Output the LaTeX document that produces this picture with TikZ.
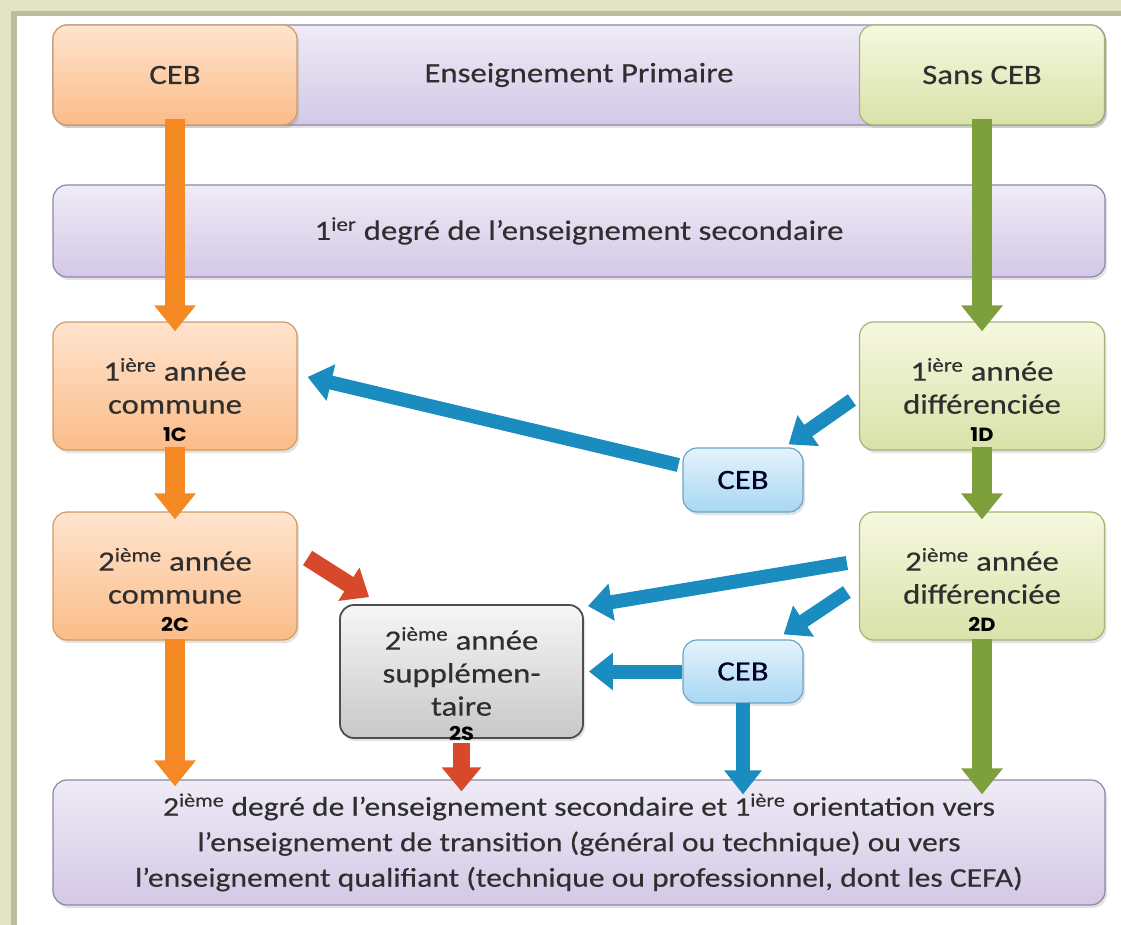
\documentclass[tikz,border=0pt]{standalone}
\usepackage{fontspec}
\setmainfont{Carlito}[FakeStretch=1.17,FakeBold=0.35]
\newfontfamily\labfont{Poppins}[FakeStretch=1.1]
\usetikzlibrary{arrows.meta,shadows,calc}
\definecolor{framebg}{HTML}{E3E3C6}
\definecolor{framedark}{HTML}{BDBD9E}
\definecolor{txt}{HTML}{2F2F2F}
\definecolor{orT}{HTML}{FFE4CE}
\definecolor{orB}{HTML}{FBBC88}
\definecolor{orD}{HTML}{D29A68}
\definecolor{grT}{HTML}{F6F8DF}
\definecolor{grB}{HTML}{D8E2A8}
\definecolor{grD}{HTML}{A3B37A}
\definecolor{puT}{HTML}{EFEBF6}
\definecolor{puB}{HTML}{D3C8E6}
\definecolor{puD}{HTML}{8E86A6}
\definecolor{blT}{HTML}{E4F3FC}
\definecolor{blB}{HTML}{A8D7F3}
\definecolor{blD}{HTML}{6EA4C6}
\definecolor{gyT}{HTML}{F6F6F6}
\definecolor{gyB}{HTML}{C8C8C8}
\definecolor{gyD}{HTML}{4E4E4E}
\definecolor{orA}{HTML}{F58A25}
\definecolor{grA}{HTML}{7EA03C}
\definecolor{blA}{HTML}{1A8CC0}
\definecolor{rdA}{HTML}{D8482A}
\tikzset{
  box/.style={rounded corners=14pt, line width=1.2pt, text=txt,
    font=\fontsize{28}{33}\selectfont, align=center, inner sep=0pt,
    drop shadow={opacity=0.22, shadow xshift=2pt, shadow yshift=-3pt}},
  orbox/.style={box, draw=orD, top color=orT, bottom color=orB},
  grbox/.style={box, draw=grD, top color=grT, bottom color=grB},
  pubox/.style={box, draw=puD, top color=puT, bottom color=puB},
  blbox/.style={box, draw=blD, top color=blT, bottom color=blB, text=black!85!blue},
  gybox/.style={box, draw=gyD, line width=1.8pt, top color=gyT, bottom color=gyB},
  lab/.style={font=\labfont\bfseries\fontsize{19}{19}\selectfont, text=black, inner sep=0pt},
  bigarrow/.style={line width=20pt, -{Triangle[width=40pt 0,length=26pt 0]}},
  oarr/.style={bigarrow, draw=orA},
  garr/.style={bigarrow, draw=grA},
  barr/.style={line width=14pt, draw=blA, -{Triangle[width=36pt 0,length=24pt 0]}},
  rarr/.style={line width=17pt, draw=rdA, -{Triangle[width=38pt 0,length=24pt 0]}}
}
\begin{document}
\begin{tikzpicture}[x=1pt,y=-1pt]
\useasboundingbox (0,0) rectangle (1121,925);
\fill[framebg] (0,0) rectangle (1121,925);
\fill[framedark] (11,11) rectangle (1121,925);
\fill[white] (17,16) rectangle (1121,925);

% top row
\node[pubox, minimum width=1052pt, minimum height=100pt] (prim) at (579,75) {Enseignement Primaire};
\node[orbox, minimum width=244pt, minimum height=100pt] (ceb) at (175,75) {CEB};
\node[grbox, minimum width=245pt, minimum height=100pt] (sceb) at (982,75) {Sans CEB};

% 1er degre
\node[pubox, minimum width=1052pt, minimum height=92pt] (deg1) at (579,231) {1\textsuperscript{ier} degré de l’enseignement secondaire};

% year boxes
\node[orbox, minimum width=244pt, minimum height=128pt] (c1) at (175,386) {1\textsuperscript{ière} année\\commune};
\node[grbox, minimum width=245pt, minimum height=128pt] (d1) at (982,386) {1\textsuperscript{ière} année\\différenciée};
\node[blbox, minimum width=120pt, minimum height=64pt] (cebA) at (743,480) {CEB};
\node[orbox, minimum width=244pt, minimum height=128pt] (c2) at (175,576) {2\textsuperscript{ième} année\\commune};
\node[grbox, minimum width=245pt, minimum height=128pt] (d2) at (982,576) {2\textsuperscript{ième} année\\différenciée};
\node[gybox, minimum width=243pt, minimum height=133pt] (s2) at (461.5,671.5) {2\textsuperscript{ième} année\\supplémen-\\taire};
\node[blbox, minimum width=120pt, minimum height=63pt] (cebB) at (743,671.5) {CEB};

% bottom bar
\node[pubox, minimum width=1052pt, minimum height=125pt, font=\fontsize{27}{35.5}\selectfont] (bot) at (579,842.5)
  {2\textsuperscript{ième} degré de l’enseignement secondaire et 1\textsuperscript{ière} orientation vers\\
   l’enseignement de transition (général ou technique) ou vers\\
   l’enseignement qualifiant (technique ou professionnel, dont les CEFA)};

% vertical arrows
\draw[oarr] ([yshift=7pt]ceb.south) -- ([yshift=-10pt]c1.north);
\draw[garr] ([yshift=7pt]sceb.south) -- ([yshift=-10pt]d1.north);
\draw[oarr] ([yshift=4pt]c1.south) -- ([yshift=-8pt]c2.north);
\draw[garr] ([yshift=4pt]d1.south) -- ([yshift=-8pt]d2.north);
\draw[oarr] ([yshift=2pt]c2.south) -- ($(c2.south |- bot.north)+(0,7)$);
\draw[garr] ([yshift=2pt]d2.south) -- ($(d2.south |- bot.north)+(0,15)$);

% blue arrows
\draw[barr] ($(cebA.west)+(-4,-15)$) -- ($(c1.east)+(10,-9)$);
\draw[barr] ($(d1.west)+(-7,14)$) -- ($(cebA.north east)+(-15,-3)$);
\draw[barr] ($(d2.west)+(-12,-13)$) -- ($(s2.north east)+(4,2)$);
\draw[barr] ($(d2.west)+(-12,16)$) -- ($(cebB.north east)+(-20,-5)$);
\draw[barr] (cebB.west) -- ($(s2.east)+(5,0)$);
\draw[barr] ([yshift=1pt]cebB.south) -- ($(cebB.south |- bot.north)+(0,15)$);

% red arrows
\draw[rarr] ($(c2.east)+(10,-18)$) -- ($(s2.north west)+(30,-7)$);
\draw[rarr] ([yshift=-4pt]s2.south) -- ($(s2.south |- bot.north)+(0,12)$);

% labels
\node[lab] (l1c) at ($(c1.south)+(0,-16)$) {1C};
\node[lab] (l1d) at ($(d1.south)+(0,-16)$) {1D};
\node[lab] (l2c) at ($(c2.south)+(0,-16)$) {2C};
\node[lab] (l2d) at ($(d2.south)+(0,-16)$) {2D};
\node[lab] (l2s) at ($(s2.south)+(0,-5)$) {2S};
\end{tikzpicture}
\end{document}
